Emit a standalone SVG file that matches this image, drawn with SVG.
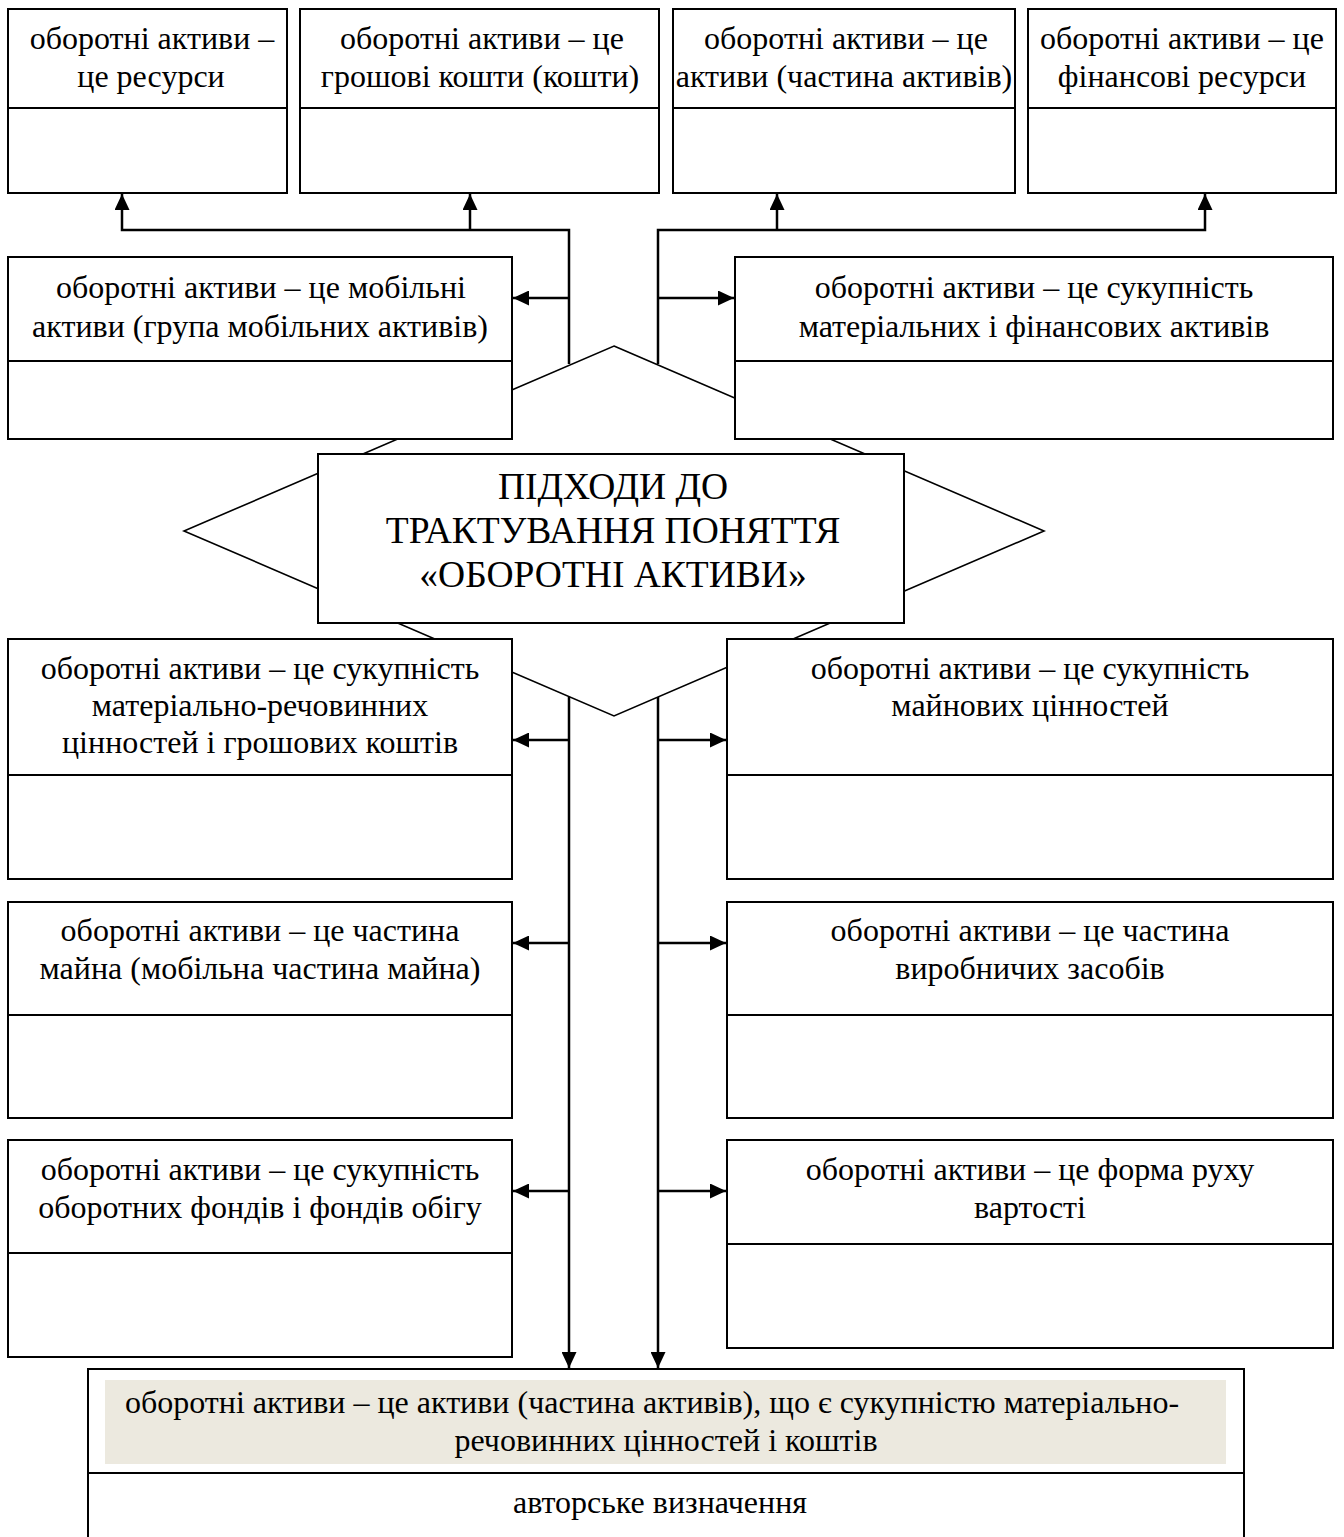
<svg xmlns="http://www.w3.org/2000/svg" width="1344" height="1537" viewBox="0 0 1344 1537">
<style>
.box{fill:#fff;stroke:#000;stroke-width:2}
.div{stroke:#000;stroke-width:2;fill:none}
.t{font-family:"Liberation Serif","Times New Roman",serif;font-size:32px;text-anchor:middle;fill:#000}
.title{font-family:"Liberation Serif","Times New Roman",serif;font-size:37.5px;text-anchor:middle;fill:#000}
.ca{stroke:#000;stroke-width:2.5;fill:none;marker-end:url(#ah)}
</style>
<defs>
<marker id="ah" markerUnits="userSpaceOnUse" markerWidth="16" markerHeight="15" refX="16" refY="7.5" orient="auto">
<path d="M0,0 L16,7.5 L0,15 Z" fill="#000"/>
</marker>
</defs>
<rect width="1344" height="1537" fill="#fff"/>

<g id="diamond">
<polygon points="614,346 1044,531 614,716 184,531" fill="#fff" stroke="#000" stroke-width="1.6"/>
</g>

<g id="top1">
<rect class="box" x="8" y="9" width="279" height="184"/>
<line class="div" x1="8" y1="108" x2="287" y2="108"/>
<text class="t" x="152" y="49">оборотні активи –</text>
<text class="t" x="151" y="87">це ресурси</text>
</g>
<g id="top2">
<rect class="box" x="300" y="9" width="359" height="184"/>
<line class="div" x1="300" y1="108" x2="659" y2="108"/>
<text class="t" x="482" y="49">оборотні активи – це</text>
<text class="t" x="480" y="87">грошові кошти (кошти)</text>
</g>
<g id="top3">
<rect class="box" x="673" y="9" width="342" height="184"/>
<line class="div" x1="673" y1="108" x2="1015" y2="108"/>
<text class="t" x="846" y="49">оборотні активи – це</text>
<text class="t" x="844" y="87">активи (частина активів)</text>
</g>
<g id="top4">
<rect class="box" x="1028" y="9" width="308" height="184"/>
<line class="div" x1="1028" y1="108" x2="1336" y2="108"/>
<text class="t" x="1182" y="49">оборотні активи – це</text>
<text class="t" x="1182" y="87">фінансові ресурси</text>
</g>

<g id="mid-left">
<rect class="box" x="8" y="257" width="504" height="182"/>
<line class="div" x1="8" y1="361" x2="512" y2="361"/>
<text class="t" x="261" y="298">оборотні активи – це мобільні</text>
<text class="t" x="260" y="337">активи (група мобільних активів)</text>
</g>
<g id="mid-right">
<rect class="box" x="735" y="257" width="598" height="182"/>
<line class="div" x1="735" y1="361" x2="1333" y2="361"/>
<text class="t" x="1034" y="298">оборотні активи – це сукупність</text>
<text class="t" x="1034" y="337">матеріальних і фінансових активів</text>
</g>

<g id="center">
<rect class="box" x="318" y="454" width="586" height="169"/>
<text class="title" x="613" y="499">ПІДХОДИ ДО</text>
<text class="title" x="613" y="543">ТРАКТУВАННЯ ПОНЯТТЯ</text>
<text class="title" x="613" y="587">«ОБОРОТНІ АКТИВИ»</text>
</g>

<g id="l1">
<rect class="box" x="8" y="639" width="504" height="240"/>
<line class="div" x1="8" y1="775" x2="512" y2="775"/>
<text class="t" x="260" y="679">оборотні активи – це сукупність</text>
<text class="t" x="260" y="716">матеріально-речовинних</text>
<text class="t" x="260" y="753">цінностей і грошових коштів</text>
</g>
<g id="r1">
<rect class="box" x="727" y="639" width="606" height="240"/>
<line class="div" x1="727" y1="775" x2="1333" y2="775"/>
<text class="t" x="1030" y="679">оборотні активи – це сукупність</text>
<text class="t" x="1030" y="716">майнових цінностей</text>
</g>

<g id="l2">
<rect class="box" x="8" y="902" width="504" height="216"/>
<line class="div" x1="8" y1="1015" x2="512" y2="1015"/>
<text class="t" x="260" y="941">оборотні активи – це частина</text>
<text class="t" x="260" y="979">майна (мобільна частина майна)</text>
</g>
<g id="r2">
<rect class="box" x="727" y="902" width="606" height="216"/>
<line class="div" x1="727" y1="1015" x2="1333" y2="1015"/>
<text class="t" x="1030" y="941">оборотні активи – це частина</text>
<text class="t" x="1030" y="979">виробничих засобів</text>
</g>

<g id="l3">
<rect class="box" x="8" y="1140" width="504" height="217"/>
<line class="div" x1="8" y1="1253" x2="512" y2="1253"/>
<text class="t" x="260" y="1180">оборотні активи – це сукупність</text>
<text class="t" x="260" y="1218">оборотних фондів і фондів обігу</text>
</g>
<g id="r3">
<rect class="box" x="727" y="1140" width="606" height="208"/>
<line class="div" x1="727" y1="1244" x2="1333" y2="1244"/>
<text class="t" x="1030" y="1180">оборотні активи – це форма руху</text>
<text class="t" x="1030" y="1218">вартості</text>
</g>

<g id="result">
<rect class="box" x="88" y="1369" width="1156" height="200"/>
<rect x="105" y="1380" width="1121" height="84" fill="#ECE9DF"/>
<line class="div" x1="88" y1="1473" x2="1244" y2="1473"/>
<text class="t" x="652" y="1413">оборотні активи – це активи (частина активів), що є сукупністю матеріально-</text>
<text class="t" x="666" y="1451">речовинних цінностей і коштів</text>
<text class="t" x="660" y="1513">авторське визначення</text>
</g>

<g id="connectors">
<path class="ca" d="M569,364 V230 H122 V194"/>
<path class="ca" d="M470,230 V194"/>
<path class="ca" d="M658,364 V230 H1205 V194"/>
<path class="ca" d="M777,230 V194"/>
<path class="ca" d="M569,298 H513"/>
<path class="ca" d="M658,298 H734"/>
<path class="ca" d="M569,697 V1368"/>
<path class="ca" d="M658,697 V1368"/>
<path class="ca" d="M569,740 H513"/>
<path class="ca" d="M658,740 H726"/>
<path class="ca" d="M569,943 H513"/>
<path class="ca" d="M658,943 H726"/>
<path class="ca" d="M569,1191 H513"/>
<path class="ca" d="M658,1191 H726"/>
</g>
</svg>
